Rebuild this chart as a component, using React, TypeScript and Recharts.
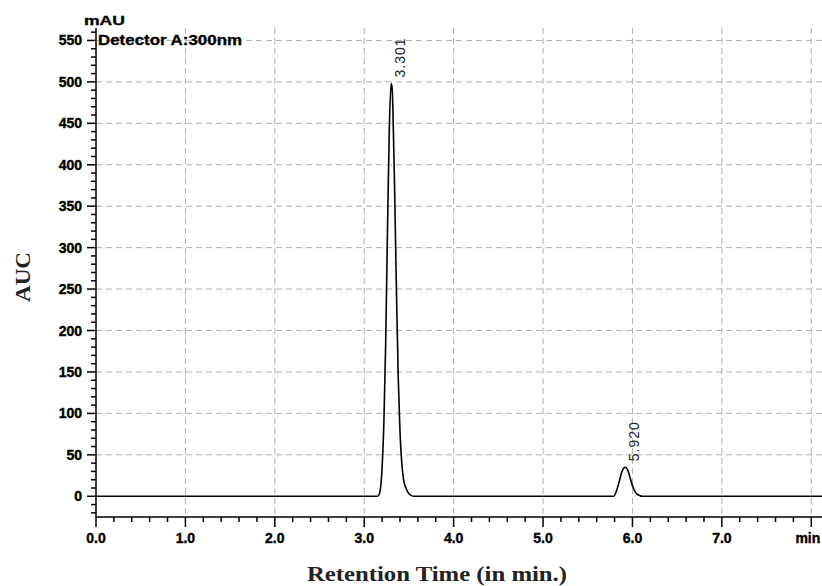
import {
  ComposedChart,
  Line,
  XAxis,
  YAxis,
  CartesianGrid,
  ReferenceDot,
} from "recharts"

// chromatogram trace (time in min, signal in mAU)
const baseTime = [0, 8.12]
const baseSignal = [0, 0]

const peak1Time = [3.15, 3.17, 3.2, 3.22, 3.24, 3.26, 3.28, 3.3, 3.31, 3.32, 3.34, 3.36, 3.38, 3.4, 3.42, 3.44, 3.47, 3.5, 3.55]
const peak1Signal = [0, 3, 35, 90, 185, 320, 440, 498, 495, 470, 370, 250, 145, 78, 40, 20, 9, 3, 0]

const peak2Time = [5.79, 5.82, 5.85, 5.88, 5.92, 5.95, 5.98, 6.01, 6.04, 6.08, 6.11]
const peak2Signal = [0, 6, 17, 29, 35, 31, 20, 10, 4, 1, 0]

const peakTimes = [3.301, 5.92]
const peakHeights = [498, 35]
const peakLabels = ["3.301", "5.920"]

const xMajor = [0, 1, 2, 3, 4, 5, 6, 7, 8]
const xLabels = ["0.0", "1.0", "2.0", "3.0", "4.0", "5.0", "6.0", "7.0", "min"]
const yMajor = [0, 50, 100, 150, 200, 250, 300, 350, 400, 450, 500, 550]

const xMinorStep = 0.2
const yMinorStep = 10
const xDomain: [number, number] = [0, 8.12]
const yDomain: [number, number] = [-25, 565]

const trace = [
  { t: baseTime[0], v: baseSignal[0] },
  ...peak1Time.map((t, i) => ({ t, v: peak1Signal[i] })),
  ...peak2Time.map((t, i) => ({ t, v: peak2Signal[i] })),
  { t: baseTime[1], v: baseSignal[1] },
]

const xTicks: number[] = []
for (let i = 0; i * xMinorStep <= 8.0001; i++) xTicks.push(Math.round(i * xMinorStep * 10) / 10)
const yTicks: number[] = []
for (let v = -20; v <= 560; v += yMinorStep) yTicks.push(v)

const tickFont = {
  fontFamily: "'Liberation Sans', Arial, sans-serif",
  fontSize: 14,
  fontWeight: 700,
}

function XTick(props: any) {
  const { x, y, payload } = props
  const v = payload.value
  const idx = xMajor.indexOf(v)
  const major = idx >= 0
  // last label sits at the right edge, keep it inside the page
  const last = idx === xMajor.length - 1
  return (
    <g>
      <line x1={x} x2={x} y1={y} y2={y + (major ? 10 : 5)} stroke="#000" strokeWidth={1.5} />
      {major && (
        <text
          x={last ? x + 9 : x}
          y={y + 26}
          textAnchor={last ? "end" : "middle"}
          fill="#000"
          stroke="#000"
          strokeWidth={0.4}
          {...tickFont}
        >
          {xLabels[idx]}
        </text>
      )}
    </g>
  )
}

function YTick(props: any) {
  const { x, y, payload } = props
  const v = payload.value
  const major = yMajor.includes(v)
  return (
    <g>
      <line x1={x - (major ? 9 : 5)} x2={x} y1={y} y2={y} stroke="#000" strokeWidth={1.5} />
      {major && (
        <text x={x - 14} y={y + 5} textAnchor="end" fill="#000" stroke="#000" strokeWidth={0.4} {...tickFont}>
          {v}
        </text>
      )}
    </g>
  )
}

function PeakLabel(props: any) {
  const { viewBox, text } = props
  const x = viewBox.x + 14
  const y = viewBox.y - 6
  return (
    <text
      x={x}
      y={y}
      transform={`rotate(-90, ${x}, ${y})`}
      fill="#222"
      fontFamily="'Liberation Sans', Arial, sans-serif"
      fontSize={14}
      letterSpacing={1}
    >
      {text}
    </text>
  )
}

export default function App() {
  return (
    <div style={{ position: "absolute", left: 0, top: 0, width: 822, height: 586, background: "#fff" }}>
      <ComposedChart width={822} height={586} data={trace} margin={{ top: 28, right: 0, bottom: 0, left: 0 }}>
        <CartesianGrid
          stroke="#b0b0b0"
          strokeDasharray="6 4"
          horizontalValues={yMajor.filter((v) => v > 0)}
          verticalValues={xMajor.filter((v) => v > 0)}
        />
        <XAxis
          dataKey="t"
          type="number"
          domain={xDomain}
          ticks={xTicks}
          interval={0}
          height={69}
          allowDataOverflow
          axisLine={{ stroke: "#000", strokeWidth: 1.5 }}
          tickLine={false}
          tickSize={0}
          tickMargin={0}
          tick={<XTick />}
        />
        <XAxis
          xAxisId="top"
          orientation="top"
          type="number"
          domain={xDomain}
          height={0}
          tick={false}
          tickLine={false}
          axisLine={{ stroke: "#000", strokeWidth: 1.5 }}
        />
        <YAxis
          type="number"
          domain={yDomain}
          ticks={yTicks}
          interval={0}
          width={96}
          allowDataOverflow
          axisLine={{ stroke: "#000", strokeWidth: 1.5 }}
          tickLine={false}
          tickSize={0}
          tickMargin={0}
          tick={<YTick />}
        />
        <Line
          dataKey="v"
          type="monotone"
          stroke="#000"
          strokeWidth={1.6}
          dot={false}
          activeDot={false}
          isAnimationActive={false}
        />
        {peakTimes.map((t, i) => (
          <ReferenceDot
            key={peakLabels[i]}
            x={t}
            y={peakHeights[i]}
            r={0}
            fill="none"
            stroke="none"
            label={<PeakLabel text={peakLabels[i]} />}
          />
        ))}
      </ComposedChart>

      {/* titles drawn over the chart */}
      <svg width={822} height={586} style={{ position: "absolute", left: 0, top: 0, pointerEvents: "none" }}>
        <text x={84} y={25} fontFamily="'Liberation Sans', Arial, sans-serif" fontSize={13} fontWeight={700}
          stroke="#000" strokeWidth={0.3} textLength={41} lengthAdjust="spacingAndGlyphs">
          mAU
        </text>
        <text x={98} y={45} fontFamily="'Liberation Sans', Arial, sans-serif" fontSize={14} fontWeight={700}
          stroke="#000" strokeWidth={0.3} textLength={144} lengthAdjust="spacingAndGlyphs">
          Detector A:300nm
        </text>
        <text x={0} y={0} transform="translate(30, 277) rotate(-90)" textAnchor="middle"
          fontFamily="'Liberation Serif', 'Times New Roman', serif" fontSize={20} fontWeight={700} fill="#222"
          textLength={50} lengthAdjust="spacingAndGlyphs">
          AUC
        </text>
        <text x={307} y={581} fontFamily="'Liberation Serif', 'Times New Roman', serif" fontSize={20}
          fontWeight={700} fill="#222" textLength={260} lengthAdjust="spacingAndGlyphs">
          Retention Time (in min.)
        </text>
      </svg>
    </div>
  )
}
